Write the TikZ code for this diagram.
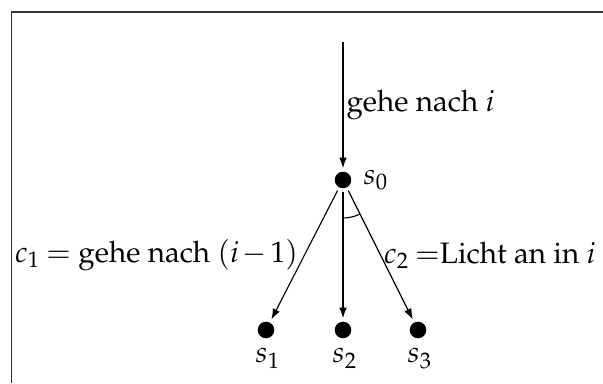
\documentclass[tikz,border=0pt]{standalone}
\usepackage[T1]{fontenc}
\usepackage{mathpazo}
\usetikzlibrary{arrows.meta,angles}
\begin{document}
\begin{tikzpicture}[x={(0.338pt,0)},y={(0,-0.338pt)},
  dot/.style={circle,fill=black,minimum size=5.6pt,inner sep=0pt,outer sep=1.2pt},
  edge/.style={-{Latex[length=3.6pt,width=2.6pt]},line width=0.38pt},
  frame/.style={line width=0.4pt,black!80},
  lbl/.style={inner sep=1pt,execute at begin node={\thickmuskip=3.5mu\medmuskip=2mu}}]
\useasboundingbox (0,0) rectangle (603,383);
\draw[frame] (11.5,383) -- (11.5,12) -- (603,12);
\coordinate (top) at (343,42);
\node[dot] (s0) at (343,180) {};
\node[dot] (s1) at (266,330) {};
\node[dot] (s2) at (343,330) {};
\node[dot] (s3) at (418,330) {};
\node[lbl,anchor=west] (l0) at (360,180) {$s_0$};
\node[lbl,anchor=north] (l1) at (268,345) {$s_1$};
\node[lbl,anchor=north] (l2) at (345,345) {$s_2$};
\node[lbl,anchor=north] (l3) at (420,345) {$s_3$};
\draw[edge] (top) -- node[lbl,anchor=west] (lg) {gehe nach $i$} (s0);
\draw[edge] (s0) -- node[lbl,anchor=east,pos=0.5,inner xsep=2pt] (lc1) {$c_1 =$ gehe nach $(i-1)$} (s1);
\draw[edge] (s0) -- (s2);
\draw[edge] (s0) -- node[lbl,anchor=west,pos=0.5] (lc2) {$c_2 =$Licht an in $i$} (s3);
\coordinate (c0) at (343,180);
\coordinate (c2) at (343,330);
\coordinate (c3) at (418,330);
\pic[draw,line width=0.38pt,angle radius=38*0.338pt] {angle=c2--c0--c3};
\end{tikzpicture}
\end{document}
